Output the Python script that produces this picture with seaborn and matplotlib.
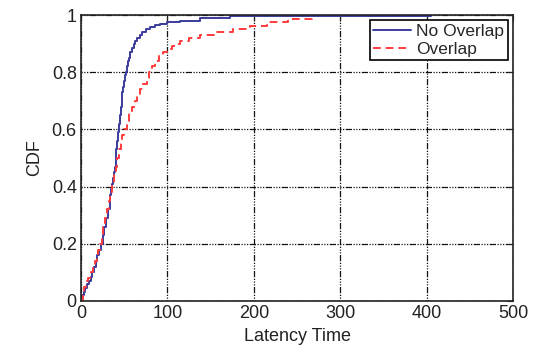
import matplotlib
matplotlib.use("Agg")
import matplotlib.pyplot as plt
import seaborn as sns
import pandas as pd

# Step points of the empirical CDFs (latency, cumulative fraction)
no_overlap_x = [0, 1, 3, 5, 7, 9, 11, 13, 15, 17, 19, 21, 23, 25, 27, 29, 31, 33, 34, 35,
                36, 37, 38, 39, 40, 41, 42, 43, 44, 45, 46, 47, 48, 49, 50, 51, 52, 53,
                54, 55, 57, 59, 61, 63, 65, 68, 71, 75, 80, 86, 91, 100, 115, 138, 172,
                250, 405]
no_overlap_y = [0, 0.02, 0.03, 0.045, 0.06, 0.07, 0.085, 0.1, 0.12, 0.14, 0.16, 0.18,
                0.2, 0.23, 0.26, 0.29, 0.32, 0.35, 0.37, 0.39, 0.41, 0.43, 0.45, 0.47,
                0.5, 0.53, 0.56, 0.59, 0.62, 0.65, 0.68, 0.7, 0.73, 0.75, 0.77, 0.79,
                0.8, 0.82, 0.84, 0.85, 0.87, 0.885, 0.9, 0.91, 0.92, 0.93, 0.94, 0.95,
                0.958, 0.965, 0.97, 0.975, 0.98, 0.99, 0.995, 0.997, 1.0]
overlap_x = [0, 2, 4, 6, 8, 10, 12, 14, 16, 18, 20, 22, 24, 26, 28, 30, 32, 34, 36, 38,
             40, 42, 44, 46, 48, 50, 53, 56, 59, 62, 65, 68, 72, 76, 79, 82, 86, 90, 95,
             100, 105, 110, 115, 125, 138, 155, 176, 195, 215, 240, 267]
overlap_y = [0, 0.03, 0.05, 0.07, 0.08, 0.09, 0.1, 0.12, 0.14, 0.16, 0.18, 0.2, 0.23,
             0.26, 0.29, 0.32, 0.35, 0.38, 0.41, 0.44, 0.47, 0.5, 0.53, 0.56, 0.58,
             0.6, 0.63, 0.66, 0.68, 0.7, 0.72, 0.74, 0.76, 0.78, 0.8, 0.82, 0.84,
             0.86, 0.87, 0.88, 0.89, 0.9, 0.91, 0.92, 0.93, 0.94, 0.95, 0.96, 0.975,
             0.985, 1.0]
series_names = ["No Overlap", "Overlap"]
x_ticks = [0, 100, 200, 300, 400, 500]
y_ticks = [0, 0.2, 0.4, 0.6, 0.8, 1.0]
y_tick_labels = ["0", "0.2", "0.4", "0.6", "0.8", "1"]

sns.set_style("white")
plt.rcParams["font.family"] = ["Liberation Sans", "DejaVu Sans"]

fig = plt.figure(figsize=(5.35, 3.59), dpi=100)
ax = fig.add_axes([0.1514, 0.1616, 0.8076, 0.7966])

df1 = pd.DataFrame({"x": no_overlap_x, "y": no_overlap_y})
df2 = pd.DataFrame({"x": overlap_x, "y": overlap_y})
sns.lineplot(data=df1, x="x", y="y", ax=ax, color="#3b3b9c", linewidth=1.4,
             drawstyle="steps-post", label=series_names[0])
sns.lineplot(data=df2, x="x", y="y", ax=ax, color="#ff3b3b", linewidth=1.4,
             linestyle=(0, (4, 2.5)), drawstyle="steps-post", label=series_names[1])

ax.set_xlim(0, 500)
ax.set_ylim(0, 1)
ax.set_xticks(x_ticks)
ax.set_yticks(y_ticks)
ax.set_yticklabels(y_tick_labels)
ax.grid(True, color="#111111", linewidth=0.9,
        linestyle=(0, (1, 1.2, 1, 1.2, 1, 1.2, 5, 1.2)))
ax.tick_params(direction="in", length=4, width=0.8, top=True, right=True,
               labelsize=13, colors="#222222", pad=3)
for s in ax.spines.values():
    s.set_color("#222222")
    s.set_linewidth(1.2)
ax.set_xlabel("Latency Time", fontsize=13, labelpad=4, color="#222222")
ax.set_ylabel("CDF", fontsize=13, labelpad=6, color="#222222")

leg = ax.legend(loc="upper right", fontsize=12.5, frameon=True, fancybox=False,
                edgecolor="black", framealpha=1, borderpad=0.2, handlelength=2.2,
                handletextpad=0.3, labelspacing=0.15, borderaxespad=0.3)
leg.get_frame().set_linewidth(1.2)

fig.savefig("out.png", dpi=100)
